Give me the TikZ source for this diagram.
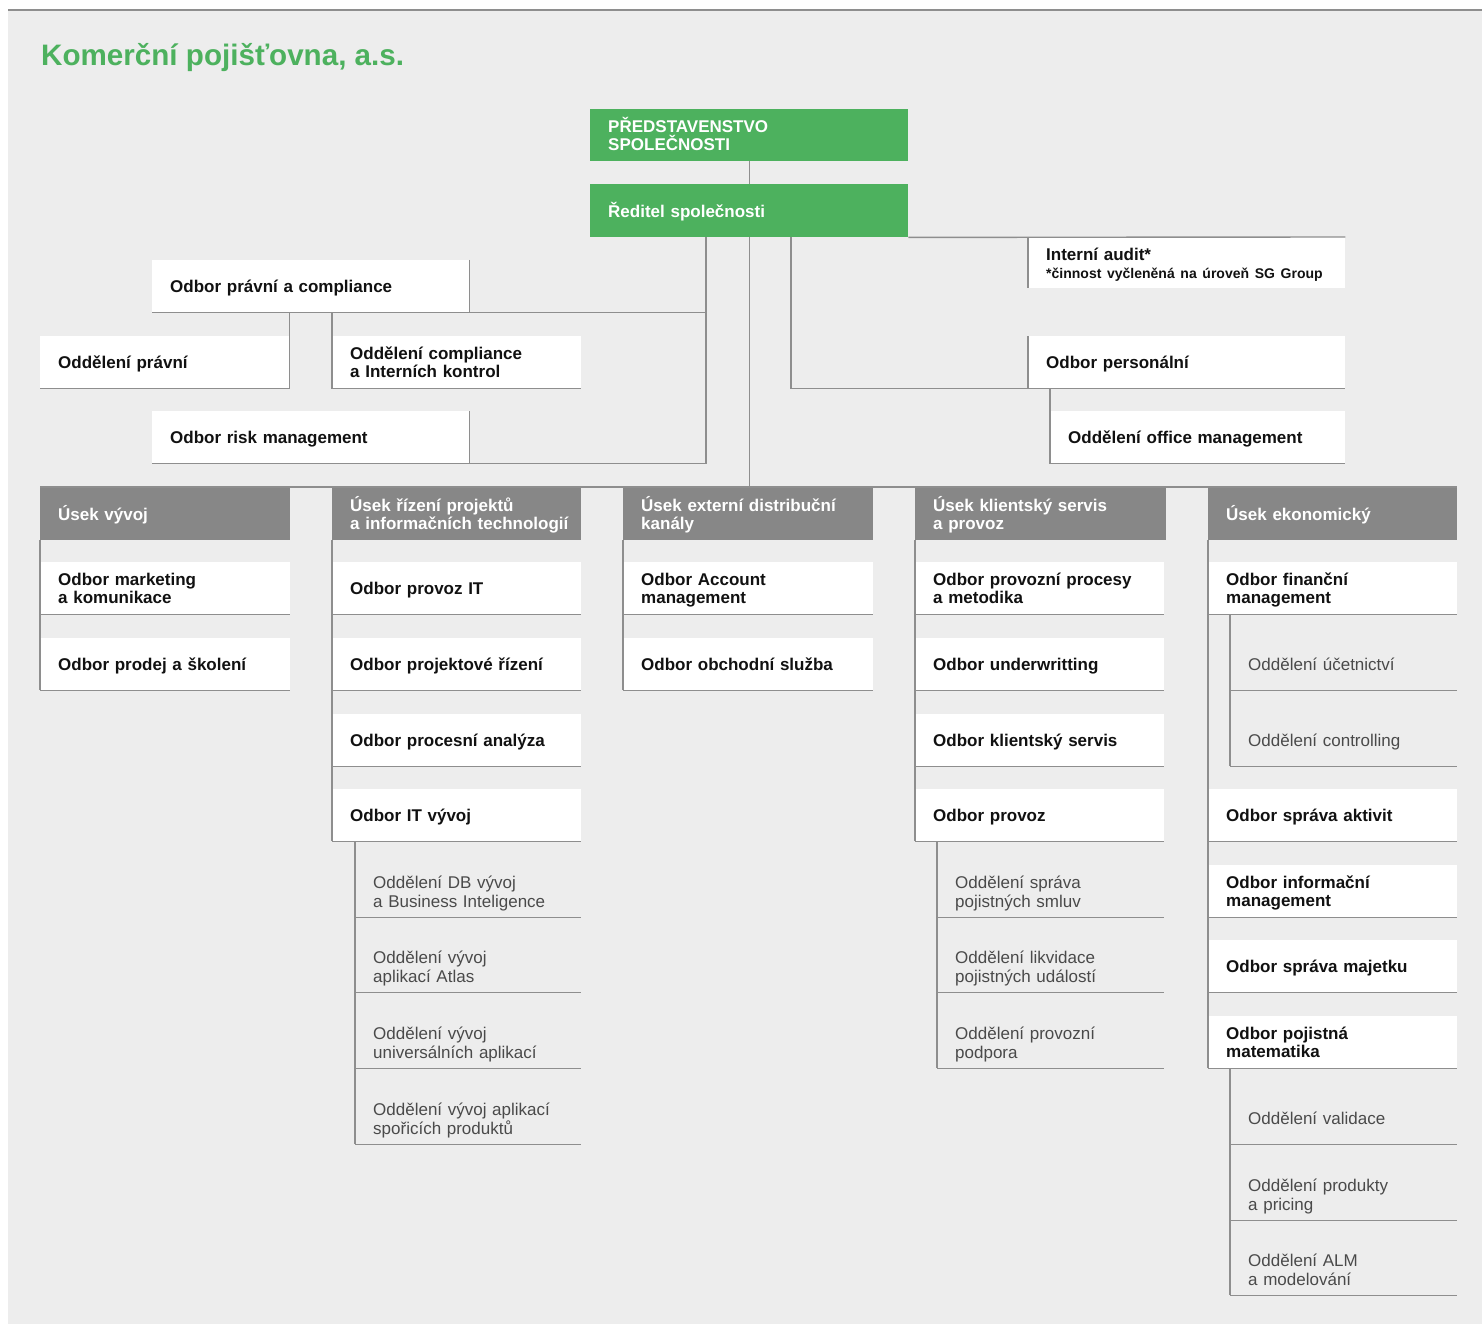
\documentclass[tikz,border=0pt]{standalone}
\usepackage{fontspec}
\setmainfont{Liberation Sans}
\definecolor{bgc}{HTML}{EDEDED}
\definecolor{gc}{HTML}{4DB15E}
\definecolor{hc}{HTML}{878787}
\definecolor{lc}{HTML}{8E8E8E}
\definecolor{tc}{HTML}{111111}
\definecolor{sc}{HTML}{4A4A4A}
\newcommand\ob[6]{\node[#1, text width=#5pt] (#2) at (#3,#4) {#6};}
\tikzset{
  base/.style={anchor=north west, inner xsep=0pt, inner ysep=0pt, minimum height=52pt,
    align=left, execute at begin node={\leftskip=18pt\relax\rule{0pt}{18pt}},
    execute at end node={\rule[-4.5pt]{0pt}{4.5pt}}},
  wb/.style={base, fill=white, text=tc, font=\bfseries\fontsize{17}{18}\selectfont},
  hb/.style={base, fill=hc, text=white, minimum height=53pt, font=\bfseries\fontsize{17}{18}\selectfont},
  gb/.style={base, fill=gc, text=white, font=\bfseries\fontsize{17}{18}\selectfont},
  sb/.style={base, text=sc, font=\fontsize{17}{19}\selectfont},
  ln/.style={draw=lc, line width=1.4pt},
  ttl/.style={anchor=base west, inner sep=0pt, text=gc, font=\bfseries\fontsize{29.6}{34}\selectfont}
}
\begin{document}
\begin{tikzpicture}[x=1pt,y=-1pt]
\useasboundingbox (0,0) rectangle (1482,1324);
\fill[white] (0,0) rectangle (1482,1324);
\fill[bgc] (8,10) rectangle (1482,1324);
\draw[lc, line width=1.5pt] (8,10) -- (1482,10);

\node[ttl] (title) at (41,66) {Komerční pojišťovna, a.s.};

% top
\ob{gb}{pred}{590}{109}{318}{PŘEDSTAVENSTVO\\SPOLEČNOSTI}
\ob{gb,minimum height=53pt}{red}{590}{184}{318}{Ředitel společnosti}
\ob{wb,minimum height=51pt}{audit}{1028}{237}{317}{Interní audit*\\\fontsize{14}{20}\selectfont *činnost vyčleněná na úroveň SG Group}
\ob{wb}{pc}{152}{260}{317}{Odbor právní a compliance}
\ob{wb}{pravni}{40}{336}{249}{Oddělení právní}
\ob{wb}{compl}{332}{336}{249}{Oddělení compliance\\a Interních kontrol}
\ob{wb}{risk}{152}{411}{317}{Odbor risk management}
\ob{wb}{pers}{1028}{336}{317}{Odbor personální}
\ob{wb}{office}{1050}{411}{295}{Oddělení office management}

% headers
\ob{hb}{h1}{40}{487}{250}{Úsek vývoj}
\ob{hb}{h2}{332}{487}{249}{Úsek řízení projektů\\a informačních technologií}
\ob{hb}{h3}{623}{487}{250}{Úsek externí distribuční\\kanály}
\ob{hb}{h4}{915}{487}{251}{Úsek klientský servis\\a provoz}
\ob{hb}{h5}{1208}{487}{249}{Úsek ekonomický}

% column 1
\ob{wb}{a1}{40}{562}{250}{Odbor marketing\\a komunikace}
\ob{wb}{b1}{40}{638}{250}{Odbor prodej a školení}
% column 2
\ob{wb}{a2}{332}{562}{249}{Odbor provoz IT}
\ob{wb}{b2}{332}{638}{249}{Odbor projektové řízení}
\ob{wb}{c2}{332}{714}{249}{Odbor procesní analýza}
\ob{wb}{d2}{332}{789}{249}{Odbor IT vývoj}
\ob{sb}{s2a}{355}{865}{226}{Oddělení DB vývoj\\a Business Inteligence}
\ob{sb}{s2b}{355}{940}{226}{Oddělení vývoj\\aplikací Atlas}
\ob{sb}{s2c}{355}{1016}{226}{Oddělení vývoj\\universálních aplikací}
\ob{sb}{s2d}{355}{1092}{226}{Oddělení vývoj aplikací\\spořicích produktů}
% column 3
\ob{wb}{a3}{623}{562}{250}{Odbor Account\\management}
\ob{wb}{b3}{623}{638}{250}{Odbor obchodní služba}
% column 4
\ob{wb}{a4}{915}{562}{249}{Odbor provozní procesy\\a metodika}
\ob{wb}{b4}{915}{638}{249}{Odbor underwritting}
\ob{wb}{c4}{915}{714}{249}{Odbor klientský servis}
\ob{wb}{d4}{915}{789}{249}{Odbor provoz}
\ob{sb}{s4a}{937}{865}{227}{Oddělení správa\\pojistných smluv}
\ob{sb}{s4b}{937}{940}{227}{Oddělení likvidace\\pojistných událostí}
\ob{sb}{s4c}{937}{1016}{227}{Oddělení provozní\\podpora}
% column 5
\ob{wb}{a5}{1208}{562}{249}{Odbor finanční\\management}
\ob{sb}{s5a}{1230}{638}{227}{Oddělení účetnictví}
\ob{sb}{s5b}{1230}{714}{227}{Oddělení controlling}
\ob{wb}{d5}{1208}{789}{249}{Odbor správa aktivit}
\ob{wb}{e5}{1208}{865}{249}{Odbor informační\\management}
\ob{wb}{f5}{1208}{940}{249}{Odbor správa majetku}
\ob{wb}{g5}{1208}{1016}{249}{Odbor pojistná\\matematika}
\ob{sb}{s5c}{1230}{1092}{227}{Oddělení validace}
\ob{sb}{s5d}{1230}{1168}{227}{Oddělení produkty\\a pricing}
\ob{sb}{s5e}{1230}{1243}{227}{Oddělení ALM\\a modelování}

% connectors
\coordinate (jl) at (706,0);
\coordinate (jr) at (791,0);
\draw[ln] (pred.south) -- (red.north);
\draw[ln] (red.south east) -- (audit.north east);
\draw[ln] (audit.north west) -- (audit.south west);
\draw[ln] (red.south -| jl) -- (jl |- risk.south) -- (risk.south west);
\draw[ln] (pc.south west) -- (pc.south -| jl);
\draw[ln] (pc.north east) -- (pc.south east);
\draw[ln] (risk.north east) -- (risk.south east);
\draw[ln] (pc.south -| pravni.east) -- (pravni.south east) -- (pravni.south west);
\draw[ln] (pc.south -| compl.west) -- (compl.south west) -- (compl.south east);
\draw[ln] (red.south -| jr) -- (jr |- pers.south) -- (pers.south east);
\draw[ln] (pers.north west) -- (pers.south west);
\draw[ln] (pers.south -| office.west) -- (office.south west) -- (office.south east);
\draw[ln] (red.south) -- (red.south |- h1.north);
\draw[ln] (h1.north west) -- (h5.north east);
\draw[ln] (h1.south west) -- (b1.south west);
\draw[ln] (h2.south west) -- (d2.south west);
\draw[ln] (h3.south west) -- (b3.south west);
\draw[ln] (h4.south west) -- (d4.south west);
\draw[ln] (h5.south west) -- (g5.south west);
\draw[ln] (d2.south -| s2a.west) -- (s2d.south west);
\draw[ln] (d4.south -| s4a.west) -- (s4c.south west);
\draw[ln] (a5.south -| s5a.west) -- (s5b.south west);
\draw[ln] (g5.south -| s5c.west) -- (s5e.south west);
\foreach \n in {a1,b1,a2,b2,c2,d2,s2a,s2b,s2c,s2d,a3,b3,a4,b4,c4,d4,s4a,s4b,s4c,a5,s5a,s5b,d5,e5,f5,g5,s5c,s5d,s5e}
  \draw[ln] (\n.south west) -- (\n.south east);
\end{tikzpicture}
\end{document}
